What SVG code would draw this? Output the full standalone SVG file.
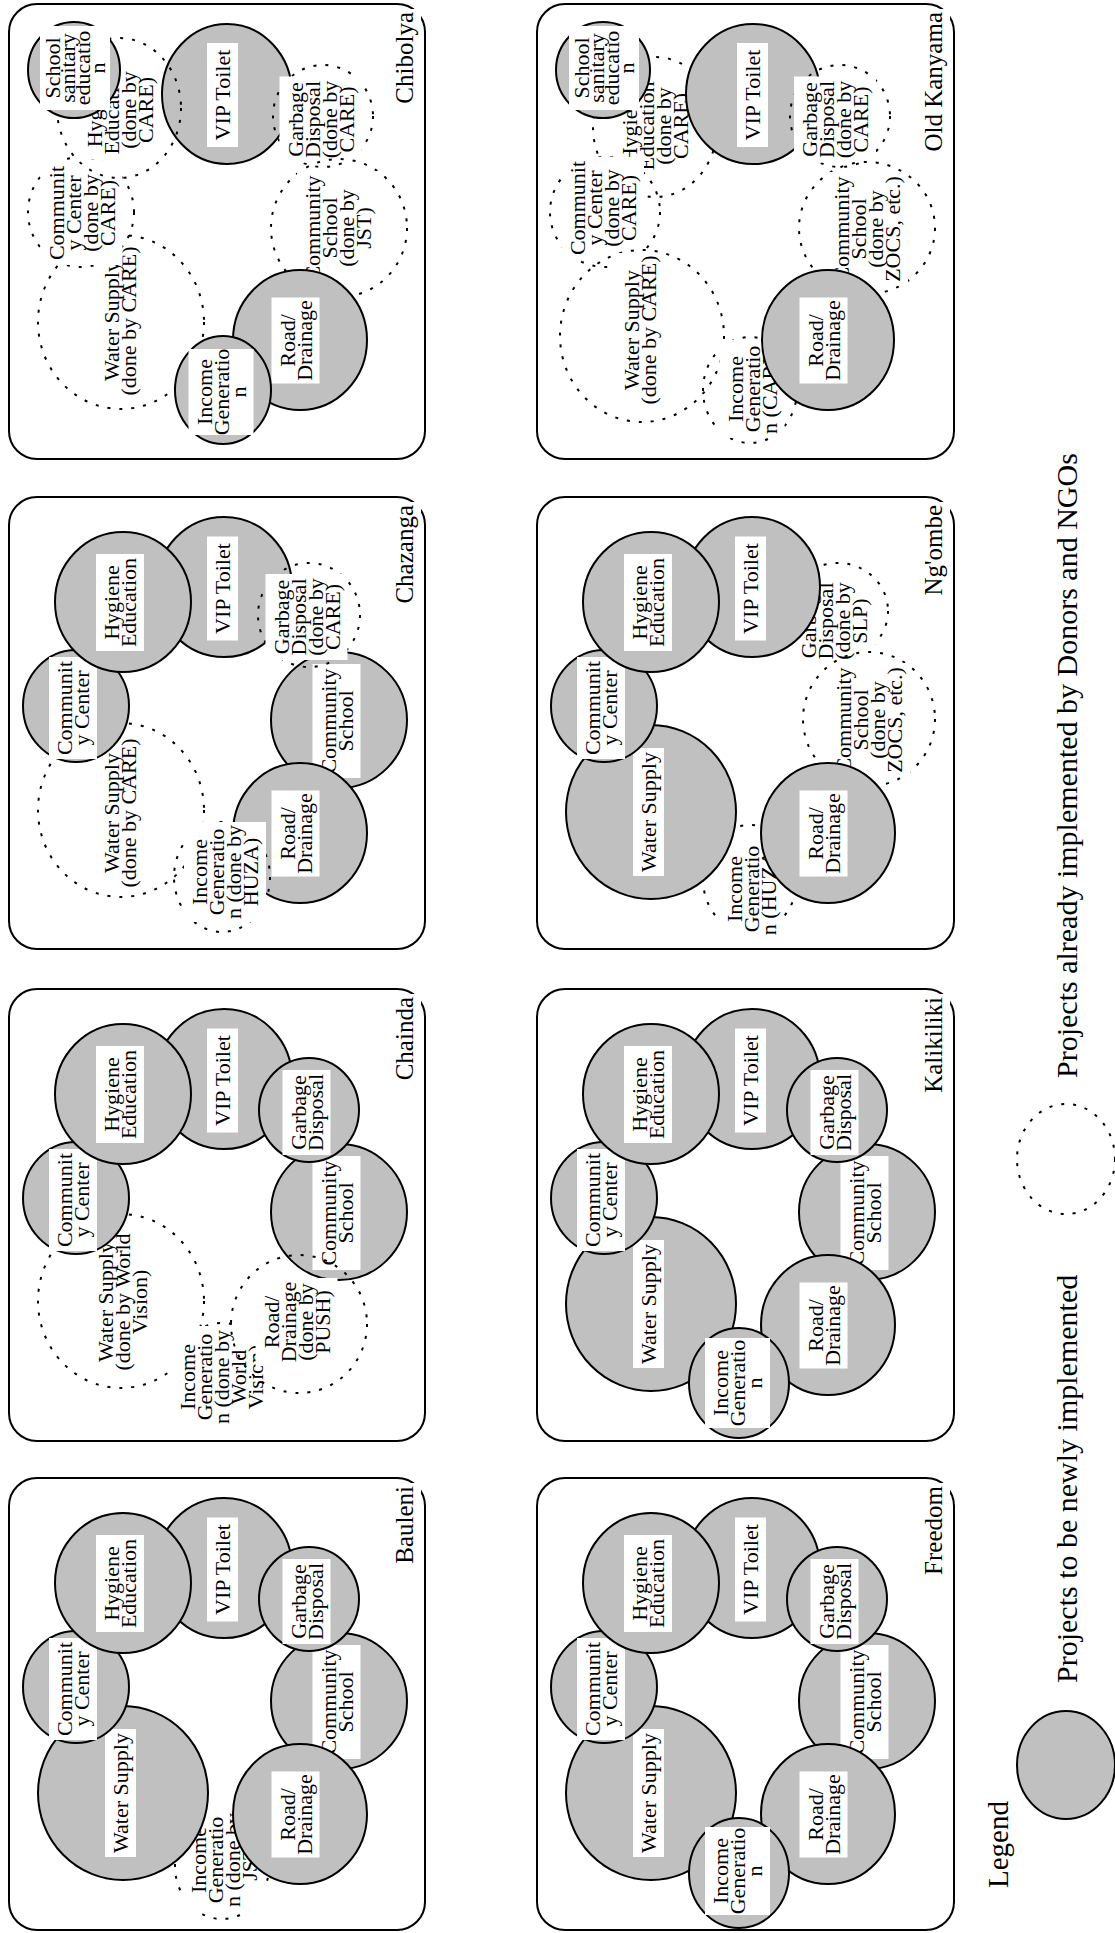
<svg xmlns="http://www.w3.org/2000/svg" width="1115" height="1933" viewBox="0 0 1115 1933">
<style>
.f{fill:none;stroke:#000;stroke-width:2}
.s{fill:#c0c0c0;stroke:#000;stroke-width:2}
.d{fill:none;stroke:#000;stroke-width:2;stroke-dasharray:3 9}
.b{fill:#fff}
.t{font-family:"Liberation Serif","Times New Roman",serif;font-size:22px;text-anchor:middle;fill:#000}
.n{font-family:"Liberation Serif","Times New Roman",serif;font-size:25px;text-anchor:end;fill:#000}
.l{font-family:"Liberation Serif","Times New Roman",serif;font-size:30px;fill:#000}
</style>
<rect width="1115" height="1933" fill="#fff"/>
<g id="connectors"/>

<!-- Bauleni -->
<g id="bauleni" transform="translate(9,1478)">
<rect class="f" width="416" height="452" rx="28"/>
<g id="bauleni-income">
<ellipse class="d" cx="213" cy="388" rx="47" ry="53"/>
<rect class="b" x="174" y="331" width="82" height="102"/>
<text class="t" transform="translate(215,382) rotate(-90)"><tspan x="0" y="-18">Income</tspan><tspan x="0" y="-1">Generatio</tspan><tspan x="0" y="16">n (done by</tspan><tspan x="0" y="33">JST)</tspan></text>
</g>
<g id="bauleni-water">
<ellipse class="s" cx="114" cy="315" rx="85" ry="87"/>
<rect class="b" x="96" y="251" width="31" height="128"/>
<text class="t" transform="translate(111.5,315) rotate(-90)"><tspan x="0" y="7.5">Water Supply</tspan></text>
</g>
<g id="bauleni-center">
<ellipse class="s" cx="67" cy="209" rx="53" ry="56"/>
<rect class="b" x="40" y="160" width="48" height="102"/>
<text class="t" transform="translate(64,211) rotate(-90)"><tspan x="0" y="-1">Communit</tspan><tspan x="0" y="16">y Center</tspan></text>
</g>
<g id="bauleni-vip">
<ellipse class="s" cx="215" cy="90" rx="68" ry="70"/>
<rect class="b" x="198" y="39.5" width="31" height="104"/>
<text class="t" transform="translate(213.5,91.5) rotate(-90)"><tspan x="0" y="7.5">VIP Toilet</tspan></text>
</g>
<g id="bauleni-hygiene">
<ellipse class="s" cx="114" cy="105" rx="68" ry="70"/>
<rect class="b" x="87" y="57" width="48" height="97"/>
<text class="t" transform="translate(111,105.5) rotate(-90)"><tspan x="0" y="-1">Hygiene</tspan><tspan x="0" y="16">Education</tspan></text>
</g>
<g id="bauleni-school">
<ellipse class="s" cx="330" cy="223" rx="68" ry="68"/>
<rect class="b" x="303.5" y="167" width="48" height="114"/>
<text class="t" transform="translate(327.5,224) rotate(-90)"><tspan x="0" y="-1">Community</tspan><tspan x="0" y="16">School</tspan></text>
</g>
<g id="bauleni-garbage">
<ellipse class="s" cx="300" cy="121" rx="50" ry="52"/>
<rect class="b" x="273.5" y="81" width="48" height="85"/>
<text class="t" transform="translate(297.5,123.5) rotate(-90)"><tspan x="0" y="-1">Garbage</tspan><tspan x="0" y="16">Disposal</tspan></text>
</g>
<g id="bauleni-road">
<ellipse class="s" cx="291" cy="336" rx="67" ry="70"/>
<rect class="b" x="262.5" y="293.5" width="48" height="86"/>
<text class="t" transform="translate(286.5,336.5) rotate(-90)"><tspan x="0" y="-1">Road/</tspan><tspan x="0" y="16">Drainage</tspan></text>
</g>
<rect class="b" x="385" y="5" width="27" height="84"/>
<text class="n" transform="translate(404,8) rotate(-90)">Bauleni</text>
</g>

<!-- Chainda -->
<g id="chainda" transform="translate(9,989)">
<rect class="f" width="416" height="452" rx="28"/>
<g id="chainda-water">
<ellipse class="d" cx="112" cy="312" rx="83" ry="87"/>
<rect class="b" x="80.5" y="239.5" width="65" height="147"/>
<text class="t" transform="translate(113,313) rotate(-90)"><tspan x="0" y="-9.5">Water Supply</tspan><tspan x="0" y="7.5">(done by World</tspan><tspan x="0" y="24.5">Vision)</tspan></text>
</g>
<g id="chainda-center">
<ellipse class="s" cx="67" cy="209" rx="53" ry="56"/>
<rect class="b" x="40" y="160" width="48" height="102"/>
<text class="t" transform="translate(64,211) rotate(-90)"><tspan x="0" y="-1">Communit</tspan><tspan x="0" y="16">y Center</tspan></text>
</g>
<g id="chainda-vip">
<ellipse class="s" cx="215" cy="90" rx="68" ry="70"/>
<rect class="b" x="198" y="39.5" width="31" height="104"/>
<text class="t" transform="translate(213.5,91.5) rotate(-90)"><tspan x="0" y="7.5">VIP Toilet</tspan></text>
</g>
<g id="chainda-hygiene">
<ellipse class="s" cx="114" cy="105" rx="68" ry="70"/>
<rect class="b" x="87" y="57" width="48" height="97"/>
<text class="t" transform="translate(111,105.5) rotate(-90)"><tspan x="0" y="-1">Hygiene</tspan><tspan x="0" y="16">Education</tspan></text>
</g>
<g id="chainda-school">
<ellipse class="s" cx="330" cy="223" rx="68" ry="68"/>
<rect class="b" x="303.5" y="167" width="48" height="114"/>
<text class="t" transform="translate(327.5,224) rotate(-90)"><tspan x="0" y="-1">Community</tspan><tspan x="0" y="16">School</tspan></text>
</g>
<g id="chainda-garbage">
<ellipse class="s" cx="300" cy="121" rx="50" ry="52"/>
<rect class="b" x="273.5" y="81" width="48" height="85"/>
<text class="t" transform="translate(297.5,123.5) rotate(-90)"><tspan x="0" y="-1">Garbage</tspan><tspan x="0" y="16">Disposal</tspan></text>
</g>
<g id="chainda-income">
<ellipse class="d" cx="213" cy="386" rx="47" ry="52"/>
<rect class="b" x="163" y="337" width="99" height="102"/>
<text class="t" transform="translate(212.5,388) rotate(-90)"><tspan x="0" y="-26.5">Income</tspan><tspan x="0" y="-9.5">Generatio</tspan><tspan x="0" y="7.5">n (done by</tspan><tspan x="0" y="24.5">World</tspan><tspan x="0" y="41.5">Vision)</tspan></text>
</g>
<g id="chainda-road">
<ellipse class="d" cx="290" cy="335" rx="68" ry="69"/>
<rect class="b" x="246.5" y="289" width="82" height="88"/>
<text class="t" transform="translate(287.5,333) rotate(-90)"><tspan x="0" y="-18">Road/</tspan><tspan x="0" y="-1">Drainage</tspan><tspan x="0" y="16">(done by</tspan><tspan x="0" y="33">PUSH)</tspan></text>
</g>
<rect class="b" x="385" y="5" width="27" height="89"/>
<text class="n" transform="translate(404,8) rotate(-90)">Chainda</text>
</g>

<!-- Chazanga -->
<g id="chazanga" transform="translate(9,497)">
<rect class="f" width="416" height="452" rx="28"/>
<g id="chazanga-water">
<ellipse class="d" cx="112" cy="313" rx="83" ry="87"/>
<rect class="b" x="87" y="237.5" width="48" height="157"/>
<text class="t" transform="translate(111,316) rotate(-90)"><tspan x="0" y="-1">Water Supply</tspan><tspan x="0" y="16">(done by CARE)</tspan></text>
</g>
<g id="chazanga-center">
<ellipse class="s" cx="67" cy="209" rx="53" ry="56"/>
<rect class="b" x="40" y="160" width="48" height="102"/>
<text class="t" transform="translate(64,211) rotate(-90)"><tspan x="0" y="-1">Communit</tspan><tspan x="0" y="16">y Center</tspan></text>
</g>
<g id="chazanga-vip">
<ellipse class="s" cx="215" cy="90" rx="68" ry="70"/>
<rect class="b" x="198" y="39.5" width="31" height="104"/>
<text class="t" transform="translate(213.5,91.5) rotate(-90)"><tspan x="0" y="7.5">VIP Toilet</tspan></text>
</g>
<g id="chazanga-hygiene">
<ellipse class="s" cx="114" cy="105" rx="68" ry="70"/>
<rect class="b" x="87" y="57" width="48" height="97"/>
<text class="t" transform="translate(111,105.5) rotate(-90)"><tspan x="0" y="-1">Hygiene</tspan><tspan x="0" y="16">Education</tspan></text>
</g>
<g id="chazanga-school">
<ellipse class="s" cx="330" cy="223" rx="68" ry="68"/>
<rect class="b" x="303.5" y="167" width="48" height="114"/>
<text class="t" transform="translate(327.5,224) rotate(-90)"><tspan x="0" y="-1">Community</tspan><tspan x="0" y="16">School</tspan></text>
</g>
<g id="chazanga-road">
<ellipse class="s" cx="291" cy="336" rx="67" ry="70"/>
<rect class="b" x="262.5" y="293.5" width="48" height="86"/>
<text class="t" transform="translate(286.5,336.5) rotate(-90)"><tspan x="0" y="-1">Road/</tspan><tspan x="0" y="16">Drainage</tspan></text>
</g>
<g id="chazanga-garbage">
<ellipse class="d" cx="300" cy="118" rx="51" ry="52"/>
<rect class="b" x="256.5" y="77" width="82" height="86"/>
<text class="t" transform="translate(297.5,120) rotate(-90)"><tspan x="0" y="-18">Garbage</tspan><tspan x="0" y="-1">Disposal</tspan><tspan x="0" y="16">(done by</tspan><tspan x="0" y="33">CARE)</tspan></text>
</g>
<g id="chazanga-income">
<ellipse class="d" cx="213" cy="380" rx="48" ry="55"/>
<rect class="b" x="175" y="325" width="82" height="100"/>
<text class="t" transform="translate(216,375) rotate(-90)"><tspan x="0" y="-18">Income</tspan><tspan x="0" y="-1">Generatio</tspan><tspan x="0" y="16">n (done by</tspan><tspan x="0" y="33">HUZA)</tspan></text>
</g>
<rect class="b" x="385" y="5" width="27" height="105"/>
<text class="n" transform="translate(404,8) rotate(-90)">Chazanga</text>
</g>

<!-- Chibolya -->
<g id="chibolya" transform="translate(9,4)">
<rect class="f" width="416" height="455" rx="28"/>
<g id="chibolya-vip">
<ellipse class="s" cx="218" cy="90" rx="65" ry="70"/>
<rect class="b" x="198" y="39" width="31" height="104"/>
<text class="t" transform="translate(213.5,91) rotate(-90)"><tspan x="0" y="7.5">VIP Toilet</tspan></text>
</g>
<g id="chibolya-water">
<ellipse class="d" cx="112" cy="318" rx="83" ry="87"/>
<rect class="b" x="87" y="238.5" width="48" height="157"/>
<text class="t" transform="translate(111,317) rotate(-90)"><tspan x="0" y="-1">Water Supply</tspan><tspan x="0" y="16">(done by CARE)</tspan></text>
</g>
<g id="chibolya-center">
<ellipse class="d" cx="72" cy="208" rx="53" ry="55"/>
<rect class="b" x="31.5" y="157" width="82" height="104"/>
<text class="t" transform="translate(72.5,209) rotate(-90)"><tspan x="0" y="-18">Communit</tspan><tspan x="0" y="-1">y Center</tspan><tspan x="0" y="16">(done by</tspan><tspan x="0" y="33">CARE)</tspan></text>
</g>
<g id="chibolya-hygiene">
<ellipse class="d" cx="110" cy="104" rx="62" ry="70"/>
<rect class="b" x="70" y="57" width="82" height="98"/>
<text class="t" transform="translate(111,106) rotate(-90)"><tspan x="0" y="-18">Hygiene</tspan><tspan x="0" y="-1">Education</tspan><tspan x="0" y="16">(done by</tspan><tspan x="0" y="33">CARE)</tspan></text>
</g>
<g id="chibolya-sanitary">
<ellipse class="s" cx="65" cy="66" rx="46" ry="48"/>
<rect class="b" x="31" y="22" width="70" height="84"/>
<text class="t" transform="translate(66,64) rotate(-90)"><tspan x="0" y="-15">School</tspan><tspan x="0" y="0">sanitary</tspan><tspan x="0" y="15">educatio</tspan><tspan x="0" y="30">n</tspan></text>
</g>
<g id="chibolya-garbage">
<ellipse class="d" cx="314" cy="112" rx="50" ry="51"/>
<rect class="b" x="270.5" y="72.5" width="82" height="86"/>
<text class="t" transform="translate(311.5,115.5) rotate(-90)"><tspan x="0" y="-18">Garbage</tspan><tspan x="0" y="-1">Disposal</tspan><tspan x="0" y="16">(done by</tspan><tspan x="0" y="33">CARE)</tspan></text>
</g>
<g id="chibolya-school">
<ellipse class="d" cx="330" cy="224" rx="68" ry="69"/>
<rect class="b" x="288" y="167" width="82" height="114"/>
<text class="t" transform="translate(329,224) rotate(-90)"><tspan x="0" y="-18">Community</tspan><tspan x="0" y="-1">School</tspan><tspan x="0" y="16">(done by</tspan><tspan x="0" y="33">JST)</tspan></text>
</g>
<g id="chibolya-road">
<ellipse class="s" cx="291" cy="336" rx="67" ry="70"/>
<rect class="b" x="262.5" y="293.5" width="48" height="86"/>
<text class="t" transform="translate(286.5,336.5) rotate(-90)"><tspan x="0" y="-1">Road/</tspan><tspan x="0" y="16">Drainage</tspan></text>
</g>
<g id="chibolya-income">
<ellipse class="s" cx="214" cy="386" rx="48" ry="54"/>
<rect class="b" x="179.5" y="345" width="65" height="86"/>
<text class="t" transform="translate(212,388) rotate(-90)"><tspan x="0" y="-9.5">Income</tspan><tspan x="0" y="7.5">Generatio</tspan><tspan x="0" y="24.5">n</tspan></text>
</g>
<rect class="b" x="385" y="5" width="27" height="98"/>
<text class="n" transform="translate(404,8) rotate(-90)">Chibolya</text>
</g>

<!-- Freedom -->
<g id="freedom" transform="translate(537,1478)">
<rect class="f" width="417" height="452" rx="28"/>
<g id="freedom-water">
<ellipse class="s" cx="114" cy="315" rx="85" ry="87"/>
<rect class="b" x="96" y="251" width="31" height="128"/>
<text class="t" transform="translate(111.5,315) rotate(-90)"><tspan x="0" y="7.5">Water Supply</tspan></text>
</g>
<g id="freedom-center">
<ellipse class="s" cx="67" cy="209" rx="53" ry="56"/>
<rect class="b" x="40" y="160" width="48" height="102"/>
<text class="t" transform="translate(64,211) rotate(-90)"><tspan x="0" y="-1">Communit</tspan><tspan x="0" y="16">y Center</tspan></text>
</g>
<g id="freedom-vip">
<ellipse class="s" cx="215" cy="90" rx="68" ry="70"/>
<rect class="b" x="198" y="39.5" width="31" height="104"/>
<text class="t" transform="translate(213.5,91.5) rotate(-90)"><tspan x="0" y="7.5">VIP Toilet</tspan></text>
</g>
<g id="freedom-hygiene">
<ellipse class="s" cx="114" cy="105" rx="68" ry="70"/>
<rect class="b" x="87" y="57" width="48" height="97"/>
<text class="t" transform="translate(111,105.5) rotate(-90)"><tspan x="0" y="-1">Hygiene</tspan><tspan x="0" y="16">Education</tspan></text>
</g>
<g id="freedom-school">
<ellipse class="s" cx="330" cy="223" rx="68" ry="68"/>
<rect class="b" x="303.5" y="167" width="48" height="114"/>
<text class="t" transform="translate(327.5,224) rotate(-90)"><tspan x="0" y="-1">Community</tspan><tspan x="0" y="16">School</tspan></text>
</g>
<g id="freedom-garbage">
<ellipse class="s" cx="300" cy="121" rx="50" ry="52"/>
<rect class="b" x="273.5" y="81" width="48" height="85"/>
<text class="t" transform="translate(297.5,123.5) rotate(-90)"><tspan x="0" y="-1">Garbage</tspan><tspan x="0" y="16">Disposal</tspan></text>
</g>
<g id="freedom-road">
<ellipse class="s" cx="291" cy="336" rx="67" ry="70"/>
<rect class="b" x="262.5" y="293.5" width="48" height="86"/>
<text class="t" transform="translate(286.5,336.5) rotate(-90)"><tspan x="0" y="-1">Road/</tspan><tspan x="0" y="16">Drainage</tspan></text>
</g>
<g id="freedom-income">
<ellipse class="s" cx="202" cy="395" rx="50" ry="55"/>
<rect class="b" x="168" y="349" width="65" height="88"/>
<text class="t" transform="translate(200.5,393) rotate(-90)"><tspan x="0" y="-9.5">Income</tspan><tspan x="0" y="7.5">Generatio</tspan><tspan x="0" y="24.5">n</tspan></text>
</g>
<rect class="b" x="386" y="5" width="27" height="95"/>
<text class="n" transform="translate(405,8) rotate(-90)">Freedom</text>
</g>

<!-- Kalikiliki -->
<g id="kalikiliki" transform="translate(537,989)">
<rect class="f" width="417" height="452" rx="28"/>
<g id="kalikiliki-water">
<ellipse class="s" cx="114" cy="315" rx="85" ry="87"/>
<rect class="b" x="96" y="251" width="31" height="128"/>
<text class="t" transform="translate(111.5,315) rotate(-90)"><tspan x="0" y="7.5">Water Supply</tspan></text>
</g>
<g id="kalikiliki-center">
<ellipse class="s" cx="67" cy="209" rx="53" ry="56"/>
<rect class="b" x="40" y="160" width="48" height="102"/>
<text class="t" transform="translate(64,211) rotate(-90)"><tspan x="0" y="-1">Communit</tspan><tspan x="0" y="16">y Center</tspan></text>
</g>
<g id="kalikiliki-vip">
<ellipse class="s" cx="215" cy="90" rx="68" ry="70"/>
<rect class="b" x="198" y="39.5" width="31" height="104"/>
<text class="t" transform="translate(213.5,91.5) rotate(-90)"><tspan x="0" y="7.5">VIP Toilet</tspan></text>
</g>
<g id="kalikiliki-hygiene">
<ellipse class="s" cx="114" cy="105" rx="68" ry="70"/>
<rect class="b" x="87" y="57" width="48" height="97"/>
<text class="t" transform="translate(111,105.5) rotate(-90)"><tspan x="0" y="-1">Hygiene</tspan><tspan x="0" y="16">Education</tspan></text>
</g>
<g id="kalikiliki-school">
<ellipse class="s" cx="330" cy="223" rx="68" ry="68"/>
<rect class="b" x="303.5" y="167" width="48" height="114"/>
<text class="t" transform="translate(327.5,224) rotate(-90)"><tspan x="0" y="-1">Community</tspan><tspan x="0" y="16">School</tspan></text>
</g>
<g id="kalikiliki-garbage">
<ellipse class="s" cx="300" cy="121" rx="50" ry="52"/>
<rect class="b" x="273.5" y="81" width="48" height="85"/>
<text class="t" transform="translate(297.5,123.5) rotate(-90)"><tspan x="0" y="-1">Garbage</tspan><tspan x="0" y="16">Disposal</tspan></text>
</g>
<g id="kalikiliki-road">
<ellipse class="s" cx="291" cy="336" rx="67" ry="70"/>
<rect class="b" x="262.5" y="293.5" width="48" height="86"/>
<text class="t" transform="translate(286.5,336.5) rotate(-90)"><tspan x="0" y="-1">Road/</tspan><tspan x="0" y="16">Drainage</tspan></text>
</g>
<g id="kalikiliki-income">
<ellipse class="s" cx="202" cy="394" rx="50" ry="55"/>
<rect class="b" x="168" y="349" width="65" height="90"/>
<text class="t" transform="translate(200.5,394) rotate(-90)"><tspan x="0" y="-9.5">Income</tspan><tspan x="0" y="7.5">Generatio</tspan><tspan x="0" y="24.5">n</tspan></text>
</g>
<rect class="b" x="386" y="5" width="27" height="102"/>
<text class="n" transform="translate(405,8) rotate(-90)">Kalikiliki</text>
</g>

<!-- Ng'ombe -->
<g id="ngombe" transform="translate(537,497)">
<rect class="f" width="417" height="452" rx="28"/>
<g id="ngombe-garbage">
<ellipse class="d" cx="301" cy="114" rx="50" ry="48"/>
<rect class="b" x="256" y="81" width="82" height="86"/>
<text class="t" transform="translate(297,124) rotate(-90)"><tspan x="0" y="-18">Garbage</tspan><tspan x="0" y="-1">Disposal</tspan><tspan x="0" y="16">(done by</tspan><tspan x="0" y="33">SLP)</tspan></text>
</g>
<g id="ngombe-school">
<ellipse class="d" cx="332" cy="222" rx="66" ry="67"/>
<rect class="b" x="291" y="166" width="82" height="114"/>
<text class="t" transform="translate(332,223) rotate(-90)"><tspan x="0" y="-18">Community</tspan><tspan x="0" y="-1">School</tspan><tspan x="0" y="16">(done by</tspan><tspan x="0" y="33">ZOCS, etc.)</tspan></text>
</g>
<g id="ngombe-income">
<ellipse class="d" cx="213" cy="382" rx="47" ry="54"/>
<rect class="b" x="181.5" y="342" width="65" height="100"/>
<text class="t" transform="translate(214,392) rotate(-90)"><tspan x="0" y="-9.5">Income</tspan><tspan x="0" y="7.5">Generatio</tspan><tspan x="0" y="24.5">n (HUZA)</tspan></text>
</g>
<g id="ngombe-water">
<ellipse class="s" cx="114" cy="315" rx="85" ry="87"/>
<rect class="b" x="96" y="251" width="31" height="128"/>
<text class="t" transform="translate(111.5,315) rotate(-90)"><tspan x="0" y="7.5">Water Supply</tspan></text>
</g>
<g id="ngombe-center">
<ellipse class="s" cx="67" cy="209" rx="53" ry="56"/>
<rect class="b" x="40" y="160" width="48" height="102"/>
<text class="t" transform="translate(64,211) rotate(-90)"><tspan x="0" y="-1">Communit</tspan><tspan x="0" y="16">y Center</tspan></text>
</g>
<g id="ngombe-vip">
<ellipse class="s" cx="215" cy="90" rx="68" ry="70"/>
<rect class="b" x="198" y="39.5" width="31" height="104"/>
<text class="t" transform="translate(213.5,91.5) rotate(-90)"><tspan x="0" y="7.5">VIP Toilet</tspan></text>
</g>
<g id="ngombe-hygiene">
<ellipse class="s" cx="114" cy="105" rx="68" ry="70"/>
<rect class="b" x="87" y="57" width="48" height="97"/>
<text class="t" transform="translate(111,105.5) rotate(-90)"><tspan x="0" y="-1">Hygiene</tspan><tspan x="0" y="16">Education</tspan></text>
</g>
<g id="ngombe-road">
<ellipse class="s" cx="291" cy="336" rx="67" ry="70"/>
<rect class="b" x="262.5" y="293.5" width="48" height="86"/>
<text class="t" transform="translate(286.5,336.5) rotate(-90)"><tspan x="0" y="-1">Road/</tspan><tspan x="0" y="16">Drainage</tspan></text>
</g>
<rect class="b" x="386" y="5" width="27" height="97"/>
<text class="n" transform="translate(405,8) rotate(-90)">Ng'ombe</text>
</g>

<!-- Old Kanyama -->
<g id="oldkanyama" transform="translate(537,4)">
<rect class="f" width="417" height="455" rx="28"/>
<g id="oldkanyama-hygiene">
<ellipse class="d" cx="118" cy="123" rx="62" ry="70"/>
<rect class="b" x="77" y="73" width="82" height="98"/>
<text class="t" transform="translate(118,122) rotate(-90)"><tspan x="0" y="-18">Hygiene</tspan><tspan x="0" y="-1">Education</tspan><tspan x="0" y="16">(done by</tspan><tspan x="0" y="33">CARE)</tspan></text>
</g>
<g id="oldkanyama-sanitary">
<ellipse class="s" cx="66" cy="66" rx="47" ry="48"/>
<rect class="b" x="32" y="22" width="70" height="84"/>
<text class="t" transform="translate(67,64) rotate(-90)"><tspan x="0" y="-15">School</tspan><tspan x="0" y="0">sanitary</tspan><tspan x="0" y="15">educatio</tspan><tspan x="0" y="30">n</tspan></text>
</g>
<g id="oldkanyama-vip">
<ellipse class="s" cx="216" cy="90" rx="67" ry="70"/>
<rect class="b" x="200" y="39" width="31" height="104"/>
<text class="t" transform="translate(215.5,91) rotate(-90)"><tspan x="0" y="7.5">VIP Toilet</tspan></text>
</g>
<g id="oldkanyama-garbage">
<ellipse class="d" cx="303" cy="112" rx="50" ry="51"/>
<rect class="b" x="257" y="72.5" width="82" height="86"/>
<text class="t" transform="translate(298,115.5) rotate(-90)"><tspan x="0" y="-18">Garbage</tspan><tspan x="0" y="-1">Disposal</tspan><tspan x="0" y="16">(done by</tspan><tspan x="0" y="33">CARE)</tspan></text>
</g>
<g id="oldkanyama-center">
<ellipse class="d" cx="68" cy="208" rx="55" ry="55"/>
<rect class="b" x="25" y="153" width="82" height="102"/>
<text class="t" transform="translate(66,204) rotate(-90)"><tspan x="0" y="-18">Communit</tspan><tspan x="0" y="-1">y Center</tspan><tspan x="0" y="16">(done by</tspan><tspan x="0" y="33">CARE)</tspan></text>
</g>
<g id="oldkanyama-water">
<ellipse class="d" cx="105" cy="332" rx="82" ry="86"/>
<rect class="b" x="79" y="249" width="48" height="155"/>
<text class="t" transform="translate(103,326) rotate(-90)"><tspan x="0" y="-1">Water Supply</tspan><tspan x="0" y="16">(done by CARE)</tspan></text>
</g>
<g id="oldkanyama-school">
<ellipse class="d" cx="330" cy="224" rx="68" ry="66"/>
<rect class="b" x="289" y="168" width="82" height="114"/>
<text class="t" transform="translate(330,225) rotate(-90)"><tspan x="0" y="-18">Community</tspan><tspan x="0" y="-1">School</tspan><tspan x="0" y="16">(done by</tspan><tspan x="0" y="33">ZOCS, etc.)</tspan></text>
</g>
<g id="oldkanyama-income">
<ellipse class="d" cx="213" cy="386" rx="47" ry="53"/>
<rect class="b" x="182.5" y="336" width="65" height="98"/>
<text class="t" transform="translate(215,385) rotate(-90)"><tspan x="0" y="-9.5">Income</tspan><tspan x="0" y="7.5">Generatio</tspan><tspan x="0" y="24.5">n (CARE)</tspan></text>
</g>
<g id="oldkanyama-road">
<ellipse class="s" cx="291" cy="336" rx="66" ry="70"/>
<rect class="b" x="262.5" y="293.5" width="48" height="86"/>
<text class="t" transform="translate(286.5,336.5) rotate(-90)"><tspan x="0" y="-1">Road/</tspan><tspan x="0" y="16">Drainage</tspan></text>
</g>
<rect class="b" x="386" y="5" width="27" height="146"/>
<text class="n" transform="translate(405,8) rotate(-90)">Old Kanyama</text>
</g>

<!-- Legend -->
<g id="legend">
<text class="l" style="font-size:29px" transform="translate(1008,1888) rotate(-90)">Legend</text>
<g id="legend-new">
<ellipse class="s" cx="1066" cy="1765" rx="49" ry="54"/>
<text class="l" transform="translate(1077,1683) rotate(-90)">Projects to be newly implemented</text>
</g>
<g id="legend-done">
<ellipse class="d" cx="1066" cy="1159" rx="49" ry="55"/>
<text class="l" transform="translate(1077,1078) rotate(-90)">Projects already implemented by Donors and NGOs</text>
</g>
</g>
</svg>
